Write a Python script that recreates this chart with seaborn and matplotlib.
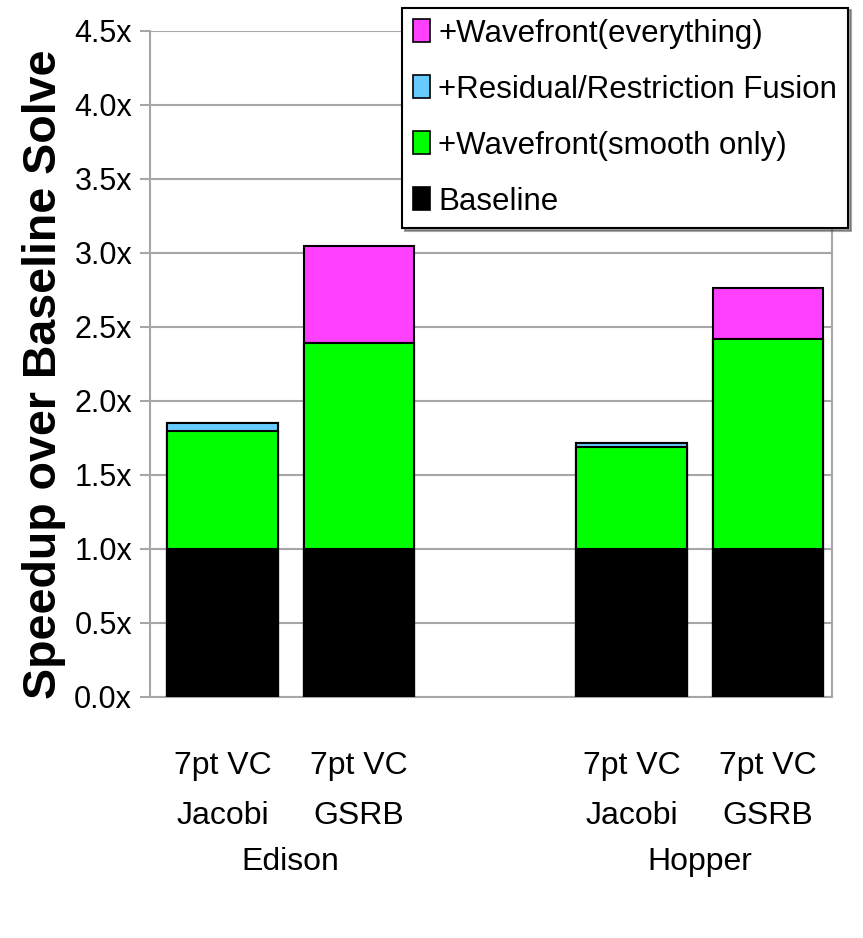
import numpy as np
import pandas as pd
import matplotlib
matplotlib.use("Agg")
import matplotlib.pyplot as plt
import matplotlib.transforms as mtransforms
import seaborn as sns

# --- data (speedup increments per optimisation) ---
bars = ["Edison Jacobi", "Edison GSRB", "gap", "Hopper Jacobi", "Hopper GSRB"]
present = ["Edison Jacobi", "Edison GSRB", "Hopper Jacobi", "Hopper GSRB"]
tick_text = ["7pt VC\nJacobi", "7pt VC\nGSRB", "", "7pt VC\nJacobi", "7pt VC\nGSRB"]
machines = ["Edison", "Hopper"]

baseline = [1.00, 1.00, 1.00, 1.00]
wave_smooth = [0.80, 1.39, 0.69, 1.42]
fusion = [0.05, 0.00, 0.025, 0.00]
wave_all = [0.00, 0.66, 0.00, 0.34]

layers = ["Baseline", "+Wavefront(smooth only)",
          "+Residual/Restriction Fusion", "+Wavefront(everything)"]
colors = ["#000000", "#00FF00", "#66CCFF", "#FF40FF"]

sns.set_style("white")
plt.rcParams["font.family"] = ["Liberation Sans", "DejaVu Sans"]
plt.rcParams["text.color"] = "black"
plt.rcParams["axes.labelcolor"] = "black"
plt.rcParams["xtick.color"] = "black"
plt.rcParams["ytick.color"] = "black"

df = pd.DataFrame({"bar": present, "Baseline": baseline,
                   "+Wavefront(smooth only)": wave_smooth,
                   "+Residual/Restriction Fusion": fusion,
                   "+Wavefront(everything)": wave_all})
cum = df[layers].cumsum(axis=1)

fig = plt.figure(figsize=(8.63, 9.38), dpi=100)
ax = fig.add_axes([0.174, 0.257, 0.79, 0.71])

# draw cumulative totals from the top layer down so each segment shows
for lay, col in reversed(list(zip(layers, colors))):
    sns.barplot(x=df["bar"], y=cum[lay], order=bars, color=col,
                width=0.81, edgecolor="black", linewidth=1.5,
                saturation=1, ax=ax, zorder=3)

ax.set_ylim(0, 4.5)
ax.set_xlim(-0.53, 4.47)
yt = np.arange(0, 4.51, 0.5)
ax.set_yticks(yt)
ax.set_yticklabels([f"{v:.1f}x" for v in yt], fontsize=22)
ax.yaxis.grid(True, color="#A6A6A6", linewidth=1.5, zorder=0)
ax.set_axisbelow(True)
for s in ["left", "right", "bottom"]:
    ax.spines[s].set_color("#A6A6A6")
    ax.spines[s].set_linewidth(1.5)
ax.spines["top"].set_visible(False)
ax.tick_params(axis="y", direction="out", length=7, width=1.5,
               color="#A6A6A6", labelcolor="black", left=True, pad=6)
ax.tick_params(axis="x", length=0, pad=39)
ax.set_xticks(range(len(bars)))
ax.set_xticklabels(tick_text, fontsize=23, linespacing=1.85)
ax.set_xlabel("")
ax.set_ylabel("Speedup over Baseline Solve", fontsize=33.5, fontweight="bold",
              labelpad=6)
ax.yaxis.label.set_y(0.485)

trans = mtransforms.blended_transform_factory(ax.transData, fig.transFigure)
for i, m in enumerate(machines):
    ax.text(0.5 + 3 * i, 0.081, m, transform=trans, ha="center",
            va="center", fontsize=23)

handles = [plt.Rectangle((0, 0), 1, 1, facecolor=c, edgecolor="black",
                         linewidth=1.2) for c in colors]
leg = fig.legend(handles[::-1], layers[::-1], loc="upper right",
                 bbox_to_anchor=(0.983, 0.992), frameon=True, shadow=True,
                 fancybox=False, handlelength=0.55, handleheight=0.75,
                 handletextpad=0.25, labelspacing=0.83, borderpad=0.36,
                 borderaxespad=0, prop={"size": 22.5})
leg.get_frame().set_edgecolor("black")
leg.get_frame().set_linewidth(1.5)

fig.savefig("out.png", dpi=100)
